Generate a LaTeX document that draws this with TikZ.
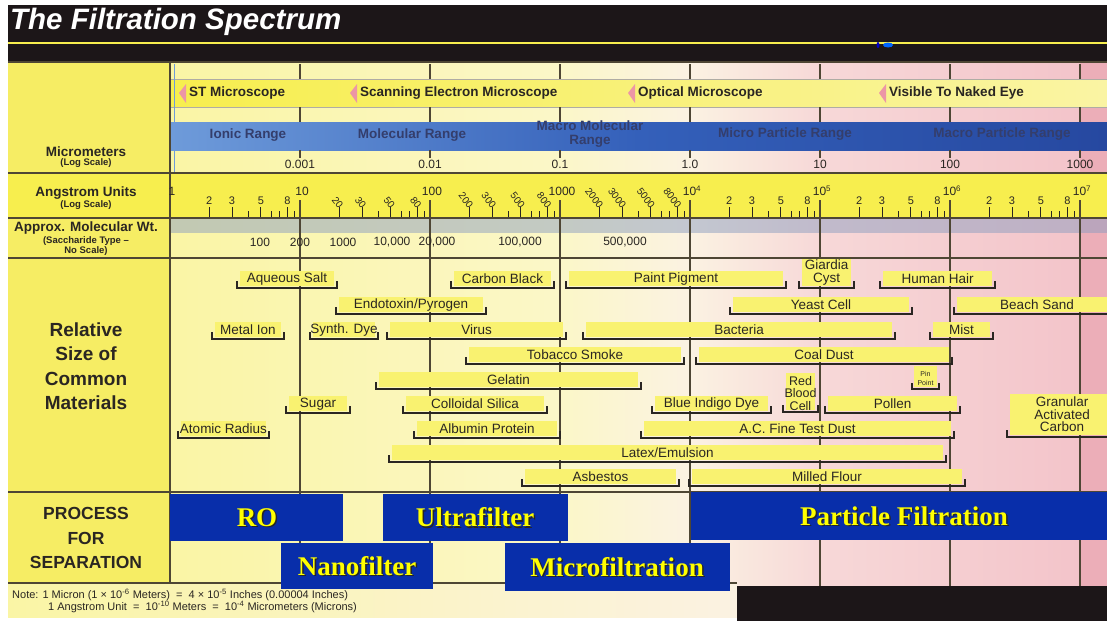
\documentclass[tikz,border=0pt]{standalone}
\usepackage{fontspec}
\setmainfont{Liberation Sans}
\newfontfamily\procfont{Liberation Serif}

\definecolor{topblack}{RGB}{28,22,24}
\definecolor{labelyellow}{RGB}{246,237,100}
\definecolor{bandyellow}{RGB}{247,238,78}
\definecolor{paleyellow}{RGB}{250,245,165}
\definecolor{creamyellow}{RGB}{251,247,200}
\definecolor{cream}{RGB}{251,242,226}
\definecolor{lightpink}{RGB}{247,216,216}
\definecolor{chartpink}{RGB}{243,196,202}
\definecolor{deeppink}{RGB}{236,174,184}
\definecolor{boxyellow}{RGB}{249,242,112}
\definecolor{rulecol}{RGB}{78,70,52}
\definecolor{inkcol}{RGB}{42,38,34}
\definecolor{bandblueL}{RGB}{110,155,218}
\definecolor{bandblueM}{RGB}{52,96,186}
\definecolor{bandblueR}{RGB}{38,72,160}
\definecolor{bandtext}{RGB}{52,62,108}
\definecolor{molgrey}{RGB}{140,158,192}
\definecolor{markpink}{RGB}{236,150,166}
\definecolor{procblue}{RGB}{8,46,170}
\definecolor{proctext}{RGB}{255,255,0}

\tikzset{
    hrule/.style={draw=rulecol, line width=1.3pt},
    decade/.style={draw=rulecol, line width=1.4pt},
    tickline/.style={draw=inkcol, line width=1pt},
    matline/.style={draw=inkcol, line width=1.6pt},
    matlabel/.style={font=\fontsize{13.5}{12.5}\selectfont, text=inkcol, inner sep=0pt, align=center},
    scopelabel/.style={font=\bfseries\fontsize{13.5}{15}\selectfont, text=inkcol, anchor=west, inner sep=0pt},
    rangelabel/.style={font=\bfseries\fontsize{13.5}{13.5}\selectfont, text=bandtext, inner sep=0pt, align=center},
    sidelabel/.style={font=\bfseries\fontsize{13.5}{15}\selectfont, text=inkcol, inner sep=0pt},
    sidesmall/.style={font=\bfseries\fontsize{9.5}{10}\selectfont, text=inkcol, inner sep=0pt, align=center},
    biglabel/.style={font=\bfseries\fontsize{19}{24.5}\selectfont, text=inkcol, inner sep=0pt, align=center},
    numlabel/.style={font=\fontsize{12}{13}\selectfont, text=inkcol, inner sep=0pt},
    ticklabel/.style={font=\fontsize{11}{12}\selectfont, text=inkcol, inner sep=0pt},
    notelabel/.style={font=\fontsize{11}{12}\selectfont, text=inkcol, inner sep=0pt, anchor=west},
    proclabel/.style={font=\procfont\bfseries\fontsize{27}{30}\selectfont, text=proctext, inner sep=0pt},
    procshadow/.style={proclabel, text=black!85},
}

\begin{document}
\begin{tikzpicture}[x=1pt, y=-1pt]
            \useasboundingbox (0,0) rectangle (1107,621);

            \fill[topblack] (8,5) rectangle (1107,62);
            \node[anchor=west, text=white, font=\bfseries\itshape\fontsize{29.5}{30}\selectfont, inner sep=0pt] (title) at (10,22) {The Filtration Spectrum};
            \draw[draw=bandyellow, line width=2pt] (8,43) -- (1107,43);
            \fill[blue!60!cyan] (888,45) ellipse (5 and 2.5);
            \fill[blue!80!black] (878,45) ellipse (1.5 and 3);

            \fill[labelyellow] (8,62) rectangle (170,583);
            \shade[left color=paleyellow, right color=creamyellow] (170,62) rectangle (560,586);
            \shade[left color=creamyellow, right color=cream] (560,62) rectangle (690,586);
            \shade[left color=cream, right color=lightpink] (690,62) rectangle (820,586);
            \shade[left color=lightpink, right color=chartpink] (820,62) rectangle (1080,586);
            \fill[deeppink] (1080,62) rectangle (1107,586);

            \shade[left color=bandyellow, right color=creamyellow!70!bandyellow] (170,79) rectangle (1107,107);
            \draw[draw=rulecol!45, line width=0.8pt] (170,79) -- (1107,79) (170,107) -- (1107,107);
            \shade[left color=bandblueL, right color=bandblueR, middle color=bandblueM] (170,122) rectangle (1107,150);
            \fill[bandyellow] (8,173) rectangle (1107,218);
            \fill[molgrey, fill opacity=0.5] (170,218) rectangle (1107,233);

            \shade[left color=paleyellow, right color=cream] (8,583) rectangle (737,617);
            \fill[topblack] (737,586) rectangle (1107,621);

            \draw[hrule] (8,62) -- (1107,62);
            \draw[hrule] (8,173) -- (1107,173);
            \draw[hrule] (8,218) -- (1107,218);
            \draw[hrule] (8,258) -- (1107,258);
            \draw[hrule] (8,492) -- (1107,492);
            \draw[hrule] (8,583) -- (737,583);
            \draw[hrule] (170,62) -- (170,583);
            \draw[draw=bandblueL, line width=0.8pt] (174,64) -- (174,172);

            \foreach \d in {1,...,7} {
                \draw[decade] ({170+130*\d},64) -- ++(0,15);
                \draw[decade] ({170+130*\d},107) -- ++(0,15);
                \draw[decade] ({170+130*\d},150) -- ++(0,8);
                \draw[decade] ({170+130*\d},200) -- ({170+130*\d},586);
            }

            \foreach \x/\txt [count=\i] in {179/{ST Microscope}, 350/{Scanning Electron Microscope}, 628/{Optical Microscope}, 879/{Visible To Naked Eye}} {
                \fill[markpink] (\x,93) -- ({\x+7},84) -- ({\x+7},103) -- cycle;
                \node[scopelabel] (scope\i) at ({\x+10},93) {\txt};
            }

            \node[rangelabel] (ionic) at (248,135) {Ionic Range};
            \node[rangelabel] (molecular) at (412,135) {Molecular Range};
            \node[rangelabel] (macromol) at (590,134) {Macro Molecular\\Range};
            \node[rangelabel] (microparticle) at (785,134) {Micro Particle Range};
            \node[rangelabel] (macroparticle) at (1002,134) {Macro Particle Range};

            \foreach \d/\txt in {1/0.001, 2/0.01, 3/0.1, 4/1.0, 5/10, 6/100, 7/1000}
                \node[numlabel] (um\d) at ({170+130*\d},164) {\txt};

            \foreach \d/\txt in {0/1, 1/10, 2/100, 3/1000, 4/{10\textsuperscript{4}}, 5/{10\textsuperscript{5}}, 6/{10\textsuperscript{6}}, 7/{10\textsuperscript{7}}}
                \node[numlabel] (ang\d) at ({172+130*\d},191) {\txt};
            \foreach \d in {0,...,6} {
                \foreach \m in {4,6,7,9}
                    \draw[tickline] ({170+130*\d+130*log10(\m)},211) -- ++(0,6);
                \foreach \m in {2,3,5,8}
                    \draw[tickline] ({170+130*\d+130*log10(\m)},207) -- ++(0,10);
            }
            \foreach \d in {0,4,5,6}
                \foreach \m in {2,3,5,8}
                    \node[ticklabel] (tick\d-\m) at ({170+130*\d+130*log10(\m)},201) {\m};
            \foreach \d/\z in {1/0, 2/00, 3/000}
                \foreach \m in {2,3,5,8}
                    \node[ticklabel, font=\fontsize{10}{11}\selectfont, rotate=-52, anchor=east] (tick\d-\m) at ({172+130*\d+130*log10(\m)},207) {\m\z};

            \foreach \x/\txt [count=\i] in {260/100, 300/200, 343/1000, 392/{10,000}, 437/{20,000}, 520/{100,000}, 625/{500,000}}
                \node[numlabel] (mw\i) at (\x,242) {\txt};

            \node[sidelabel] (microlbl) at (86,152) {Micrometers};
            \node[sidesmall] (microsub) at (86,163) {(Log Scale)};
            \node[sidelabel] (anglbl) at (86,193) {Angstrom Units};
            \node[sidesmall] (angsub) at (86,205) {(Log Scale)};
            \node[sidelabel] (mollbl) at (86,228) {Approx. Molecular Wt.};
            \node[sidesmall] (molsub) at (86,246) {(Saccharide Type --\\No Scale)};
            \node[biglabel] (rellbl) at (86,366) {Relative\\Size of\\Common\\Materials};
            \node[biglabel, font=\bfseries\fontsize{17.5}{24.5}\selectfont] (proclbl) at (86,538) {PROCESS\\FOR\\SEPARATION};

            \foreach \xa/\xb/\yl/\txt [count=\i] in {
                237/337/288/{Aqueous Salt}, 451/554/288/{Carbon Black}, 566/786/288/{Paint Pigment},
                880/995/288/{Human Hair}, 336/486/314/{Endotoxin/Pyrogen}, 730/912/314/{Yeast Cell},
                954/1120/314/{Beach Sand}, 212/284/339/{Metal Ion}, 310/378/339/{Synth. Dye},
                387/566/339/{Virus}, 583/895/339/{Bacteria}, 930/993/339/{Mist},
                466/684/364/{Tobacco Smoke}, 696/952/364/{Coal Dust}, 376/641/389/{Gelatin},
                286/350/413/{Sugar}, 403/547/413/{Colloidal Silica}, 652/771/413/{Blue Indigo Dye},
                825/960/413/{Pollen}, 178/269/438/{Atomic Radius}, 414/560/438/{Albumin Protein},
                641/954/438/{A.C. Fine Test Dust}, 389/946/462/{Latex/Emulsion},
                522/679/486/{Asbestos}, 689/965/486/{Milled Flour}} {
                \fill[boxyellow] ({\xa+3},{\yl-17}) rectangle ({\xb-3},{\yl-2});
                \draw[matline] (\xa,{\yl-7}) -- (\xa,\yl) -- (\xb,\yl) -- (\xb,{\yl-7});
                \node[matlabel] (mat\i) at ({(\xa+\xb)/2},{\yl-9}) {\txt};
            }

            \fill[boxyellow] (802,259) rectangle (851,286);
            \draw[matline] (799,281) -- (799,288) -- (854,288) -- (854,281);
            \node[matlabel] (giardia) at (826.5,272.5) {Giardia\\Cyst};

            \fill[boxyellow] (786,373) rectangle (815,410);
            \draw[matline] (783,405) -- (783,412) -- (818,412) -- (818,405);
            \node[matlabel, font=\fontsize{12.5}{12.5}\selectfont] (bloodcell) at (800.5,393.5) {Red\\Blood\\Cell};

            \fill[boxyellow] (1010,394) rectangle (1107,435);
            \draw[matline] (1007,430) -- (1007,437) -- (1120,437);
            \node[matlabel] (carbon) at (1062,414.5) {Granular\\Activated\\Carbon};

            \fill[boxyellow] (914,366) rectangle (937,387);
            \draw[matline] (912,383) -- (912,389) -- (939,389) -- (939,383);
            \node[matlabel, font=\fontsize{7}{9}\selectfont] (pinpoint) at (925.5,378) {Pin\\Point};

            \foreach \nm/\xa/\ya/\xb/\yb/\tx/\txt in {ro/170/494/343/541/257/RO, ultra/383/494/568/541/475/Ultrafilter, nano/281/543/433/589/357/Nanofilter, micro/505/543/730/591/617/Microfiltration, particle/691/492/1107/540/904/{Particle Filtration}} {
                \fill[procblue] (\xa,\ya) rectangle (\xb,\yb);
                \node[procshadow] (\nm-shadow) at ({\tx+1.5},{(\ya+\yb)/2+1.5}) {\txt};
                \node[proclabel] (\nm) at (\tx,{(\ya+\yb)/2}) {\txt};
            }

            \node[notelabel] (note1) at (12,595) {Note: 1 Micron (1 × 10\textsuperscript{-6} Meters) \ = \ 4 × 10\textsuperscript{-5} Inches (0.00004 Inches)};
            \node[notelabel] (note2) at (48,607) {1 Angstrom Unit \ = \ 10\textsuperscript{-10} Meters \ = \ 10\textsuperscript{-4} Micrometers (Microns)};
\end{tikzpicture}
\end{document}
